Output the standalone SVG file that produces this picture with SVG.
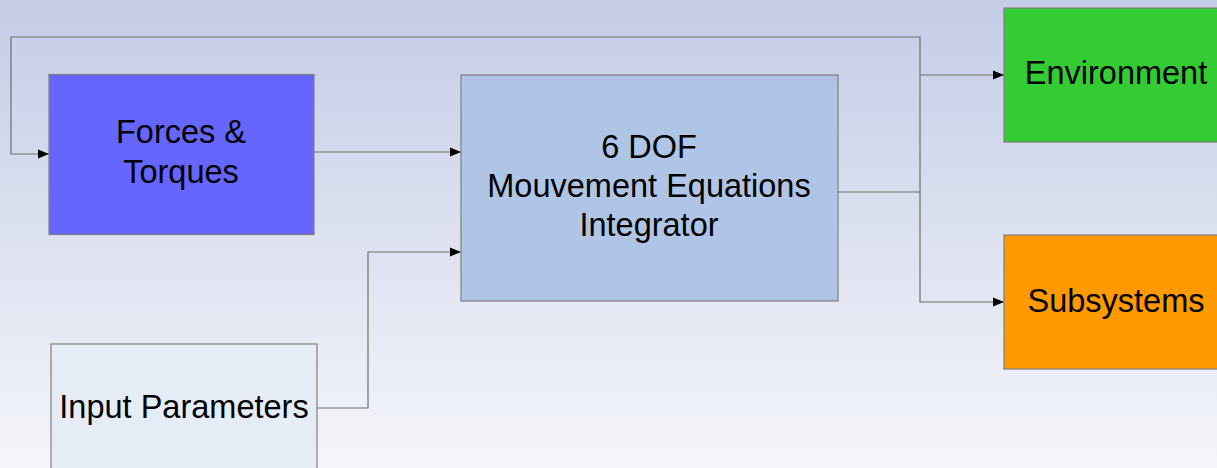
<svg xmlns="http://www.w3.org/2000/svg" width="1217" height="468" viewBox="0 0 1217 468">
  <defs>
    <linearGradient id="bg" x1="0" y1="0" x2="0" y2="1">
      <stop offset="0" stop-color="#c4cce6"/>
      <stop offset="1" stop-color="#f5f6fa"/>
    </linearGradient>
    <marker id="arrow" viewBox="0 0 10 10" refX="10" refY="5" markerWidth="11" markerHeight="11" markerUnits="userSpaceOnUse" orient="auto">
      <path d="M0,1 L10,5 L0,9 Z" fill="#000"/>
    </marker>
    <style>
      .box { stroke: #7f7f7f; stroke-width: 1.2; }
      .lbl { font-family: "Liberation Sans", Arial, sans-serif; font-size: 32.5px; fill: #000; text-anchor: middle; }
      .wire { fill: none; stroke: #6e6e6e; stroke-width: 1.2; }
    </style>
  </defs>

  <rect width="1217" height="468" fill="url(#bg)"/>

  <g id="connectors">
    <!-- feedback loop from the integrator output back to Forces & Torques -->
    <polyline class="wire" points="920,192 920,37 11,37 11,154 49,154" marker-end="url(#arrow)"/>
    <!-- integrator output bus -->
    <polyline class="wire" points="838,192 920,192"/>
    <polyline class="wire" points="920,75 1004,75" marker-end="url(#arrow)"/>
    <polyline class="wire" points="920,192 920,302 1004,302" marker-end="url(#arrow)"/>
    <!-- inputs to the integrator -->
    <polyline class="wire" points="314,152 461,152" marker-end="url(#arrow)"/>
    <polyline class="wire" points="317,408 368,408 368,252 461,252" marker-end="url(#arrow)"/>
  </g>

  <g id="forces">
    <rect class="box" x="49" y="74.5" width="265" height="160" fill="#6666ff"/>
    <text class="lbl" x="181" y="143">Forces &amp;</text>
    <text class="lbl" x="181" y="183">Torques</text>
  </g>

  <g id="integrator">
    <rect class="box" x="461" y="75" width="377" height="226" fill="#b0c5e5"/>
    <text class="lbl" x="649" y="158">6 DOF</text>
    <text class="lbl" x="649" y="197">Mouvement Equations</text>
    <text class="lbl" x="649" y="236">Integrator</text>
  </g>

  <g id="environment">
    <rect class="box" x="1004" y="8" width="226" height="134" fill="#33cc33"/>
    <text class="lbl" x="1116" y="84">Environment</text>
  </g>

  <g id="subsystems">
    <rect class="box" x="1004" y="235" width="226" height="134" fill="#ff9900"/>
    <text class="lbl" x="1116" y="312">Subsystems</text>
  </g>

  <g id="input-parameters">
    <rect class="box" x="51" y="344" width="266" height="140" fill="#e6ecf6"/>
    <text class="lbl" x="184" y="418">Input Parameters</text>
  </g>
</svg>
